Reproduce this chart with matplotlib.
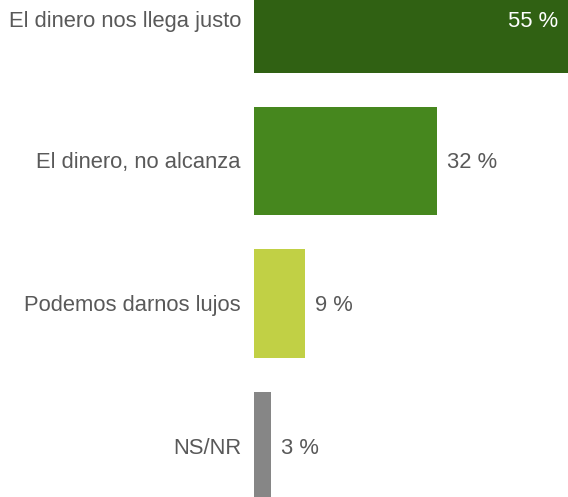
import matplotlib
matplotlib.use("Agg")
import matplotlib.pyplot as plt

categories = ["El dinero nos llega justo", "El dinero, no alcanza", "Podemos darnos lujos", "NS/NR"]
values = [55, 32, 9, 3]
colors = ["#306113", "#46871e", "#c1d045", "#868686"]

plt.rcParams["font.family"] = ["Liberation Sans", "DejaVu Sans"]

fig = plt.figure(figsize=(5.68, 4.97), dpi=100)
ax = fig.add_axes([254 / 568, 0, 1 - 254 / 568, 1])

ypos = list(range(len(categories)))
ax.barh(ypos, values, height=109 / 143, color=colors)

ax.set_xlim(0, 55)
ax.set_ylim(3.35, -0.126)
ax.axis("off")

px = 55 / 314  # data units per pixel
for y, v, name in zip(ypos, values, categories):
    ty = y + 0.025 if y == 0 else y + 0.01
    ax.text(-13 * px, ty, name, ha="right", va="center", fontsize=15.8, color="#595959")
    if v == max(values):
        ax.text(v - 10 * px, ty, f"{v} %", ha="right", va="center", fontsize=15.8, color="white")
    else:
        ax.text(v + 10 * px, ty, f"{v} %", ha="left", va="center", fontsize=15.8, color="#595959")

fig.savefig("out.png", dpi=100)
